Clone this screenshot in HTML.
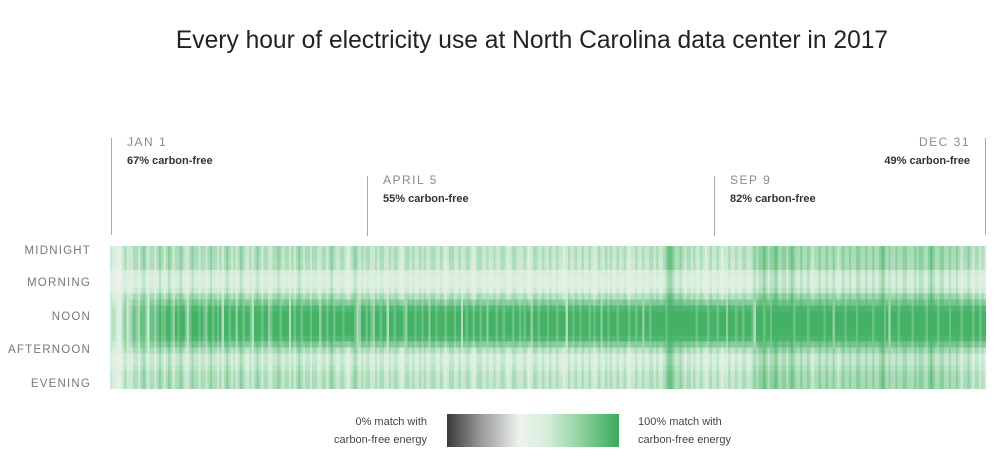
<!DOCTYPE html>
<html><head><meta charset="utf-8">
<style>
body{margin:0;background:#fff;font-family:"Liberation Sans",sans-serif;}
#wrap{position:relative;width:1000px;height:468px;overflow:hidden;}
.t{position:absolute;white-space:nowrap;}
.date{font-size:12px;color:#8a8a8a;letter-spacing:1.5px;}
.pct{font-size:11px;color:#333;font-weight:bold;}
.yl{font-size:11.5px;color:#777;letter-spacing:1.2px;text-align:right;width:91px;left:0;}
.vl{position:absolute;width:1px;background:#aaa;}
.lg{font-size:11px;color:#444;line-height:18px;}
</style></head><body>
<div id="wrap">
<div class="t" style="left:0;width:1064px;text-align:center;top:27px;font-size:24.6px;color:#222;">Every hour of electricity use at North Carolina data center in 2017</div>

<div class="vl" style="left:111px;top:138px;height:97px"></div>
<div class="t date" style="left:127px;top:135px">JAN 1</div>
<div class="t pct" style="left:127px;top:155px">67% carbon-free</div>

<div class="vl" style="left:367px;top:176px;height:60px"></div>
<div class="t date" style="left:383px;top:173px">APRIL 5</div>
<div class="t pct" style="left:383px;top:193px">55% carbon-free</div>

<div class="vl" style="left:714px;top:176px;height:60px"></div>
<div class="t date" style="left:730px;top:173px">SEP 9</div>
<div class="t pct" style="left:730px;top:193px">82% carbon-free</div>

<div class="vl" style="left:985px;top:138px;height:97px"></div>
<div class="t date" style="right:30px;top:135px;text-align:right">DEC 31</div>
<div class="t pct" style="right:30px;top:155px;text-align:right">49% carbon-free</div>

<div class="t yl" style="top:245px">MIDNIGHT</div>
<div class="t yl" style="top:277px">MORNING</div>
<div class="t yl" style="top:311px">NOON</div>
<div class="t yl" style="top:344px">AFTERNOON</div>
<div class="t yl" style="top:378px">EVENING</div>

<svg id="hm" style="position:absolute;left:110px;top:246px" width="876" height="143" shape-rendering="crispEdges"></svg>

<div class="t lg" style="right:573px;top:413px;text-align:right">0% match with<br>carbon-free energy</div>
<div style="position:absolute;left:447px;top:414px;width:172px;height:33px;background:linear-gradient(to right,#3a3a3a 0%,#9a9a9a 20%,#eef3ef 42%,#d6eedb 58%,#8fd19f 78%,#3aaa5a 100%)"></div>
<div class="t lg" style="left:638px;top:413px">100% match with<br>carbon-free energy</div>
</div>
<script>
// daily noon-time match level (0-9) and off-peak match level (0-9)
const noonLevel=[5,6,5,4,3,6,7,5,6,7,8,7,6,8,8,7,5,8,8,7,8,9,8,8,9,9,8,7,9,8,9,9,8,6,8,9,9,9,8,9,8,7,9,9,8,9,8,9,6,9,9,8,9,9,7,9,9,8,9,9,8,6,9,9,9,8,9,9,7,8,9,9,9,8,9,9,9,6,9,8,9,9,8,9,9,9,8,9,9,9,7,9,9,8,9,9,8,9,9,9,8,9,9,9,9,8,6,7,9,9,8,9,8,7,9,9,8,9,9,6,9,9,8,9,9,9,8,7,9,9,9,8,9,9,8,9,9,7,9,9,8,9,9,9,8,9,9,9,8,9,9,6,9,8,9,9,8,9,9,8,9,9,7,9,9,9,8,9,9,8,9,9,9,8,9,9,8,9,8,9,9,7,9,9,8,9,9,9,8,9,9,9,8,9,9,9,6,9,9,8,9,9,8,9,9,9,8,9,8,9,9,7,9,9,8,9,9,9,8,9,9,9,9,8,9,9,8,9,9,7,9,9,8,9,9,9,9,9,9,8,9,9,9,9,9,9,9,9,9,9,9,9,8,9,9,9,9,8,9,9,9,8,9,9,9,7,9,9,9,8,9,9,8,9,9,9,8,6,9,9,9,8,9,9,8,9,9,9,9,9,9,9,9,9,8,9,9,9,9,9,8,9,9,9,9,9,9,8,9,9,9,7,9,9,9,9,8,9,9,9,9,8,9,9,9,9,9,9,8,9,9,9,9,8,9,6,9,9,9,8,9,9,9,9,9,8,9,9,9,9,9,8,9,9,9,9,8,9,9,9,9,8,9,9,9,9,8,9,9,9,9,8,9,9,8,9,9];
const offLevel=[5,4,4,3,3,5,6,5,5,5,6,6,5,6,7,6,5,6,6,5,6,7,6,5,6,7,6,5,6,6,7,6,5,5,6,7,6,6,5,6,6,5,6,7,6,6,5,6,5,6,7,6,5,6,5,6,7,6,5,5,6,5,6,7,6,5,6,6,5,5,6,6,7,6,5,6,6,5,6,5,6,7,6,5,6,6,5,6,6,5,5,6,6,5,6,7,6,5,5,6,6,5,4,5,6,7,6,5,6,5,6,6,5,5,6,5,6,6,5,5,6,5,6,6,5,4,5,6,6,5,6,5,5,6,5,6,5,5,6,6,5,5,6,5,4,5,6,6,5,5,6,5,5,6,6,5,4,5,6,6,5,5,6,5,5,6,5,5,6,6,5,4,5,6,6,5,5,5,6,5,4,5,6,6,5,5,6,5,5,6,5,5,6,5,5,4,5,6,5,5,6,5,5,6,5,5,6,5,4,5,6,5,5,6,5,6,5,5,6,5,5,6,5,4,5,5,6,5,5,6,5,5,6,6,5,6,5,5,6,7,8,8,7,6,6,7,6,5,6,6,5,6,5,5,6,5,4,5,6,5,5,6,5,4,5,5,6,5,5,6,5,5,6,6,5,5,6,7,6,7,7,8,7,6,7,7,8,7,6,7,7,6,7,8,7,6,6,7,6,6,7,6,5,6,6,7,6,6,7,6,6,7,6,5,6,7,6,6,7,6,6,7,7,6,6,7,6,6,7,6,6,7,8,7,6,7,6,6,7,6,6,7,7,6,6,6,7,6,7,7,6,6,7,8,7,6,6,7,7,6,6,7,6,6,7,6,5,6,6,7,6,5,6,6,5,6,5];
// hour-of-day weight toward the noon level (negative = lighter than off level)
const hourWeight=[0.05,0.05,0,0,-0.15,-0.18,-0.18,-0.12,0.15,0.55,0.9,1,1,1,1,0.9,0.55,0.1,-0.1,-0.1,-0.05,0,0.05,0.05];

const svg=document.getElementById('hm');
const W=876,H=143,nD=Math.min(noonLevel.length,offLevel.length),nH=hourWeight.length;
const xs=d=>d*W/nD, ys=h=>h*H/nH;
function lerp(a,b,t){return a.map((v,i)=>Math.round(v+(b[i]-v)*t));}
function color(v){
  v=Math.max(0,Math.min(1,v));
  const dark=[58,58,58],white=[238,243,239],lg=[215,238,220],g=[60,174,95];
  if(v<0.4) return 'rgb('+lerp(dark,white,Math.pow(v/0.4,0.35))+')';
  if(v<0.6) return 'rgb('+lerp(white,lg,(v-0.4)/0.2)+')';
  return 'rgb('+lerp(lg,g,(v-0.6)/0.4)+')';
}
const NS='http://www.w3.org/2000/svg';
for(let d=0;d<nD;d++){
  const nv=noonLevel[d]/9, ov=offLevel[d]/9;
  for(let h=0;h<nH;h++){
    let raw=ov+(nv-ov)*hourWeight[h];
    if(hourWeight[h]<0) raw=ov+hourWeight[h]*0.9;
    raw=Math.max(0,raw);
    const v=0.38+Math.pow(raw,1.5)*0.6;
    const r=document.createElementNS(NS,'rect');
    
    
    r.setAttribute('x',xs(d));r.setAttribute('y',ys(h));
    r.setAttribute('width',W/nD+0.6);r.setAttribute('height',H/nH+0.6);
    r.setAttribute('fill',color(v));
    svg.appendChild(r);
  }
}
</script>
</body></html>
